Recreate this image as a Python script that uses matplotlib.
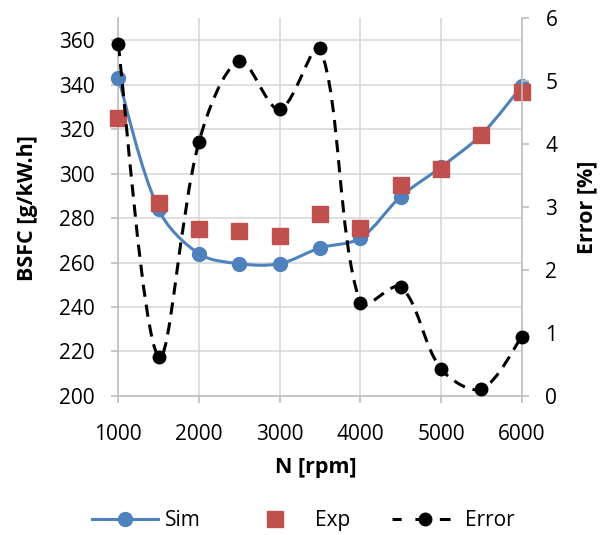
import numpy as np
import matplotlib
matplotlib.use('Agg')
import matplotlib.pyplot as plt
from matplotlib.path import Path
from matplotlib.patches import PathPatch
from matplotlib.lines import Line2D

plt.rcParams['font.family'] = ['Open Sans', 'DejaVu Sans']

# ── Data ───────────────────────────────────────────────────────────────────────
rpm = [1000, 1500, 2000, 2500, 3000, 3500, 4000, 4500, 5000, 5500, 6000]
bsfc_sim = [343.3, 284.0, 264.0, 259.5, 259.5, 266.6, 271.0, 289.7, 303.0, 317.6, 339.4]
bsfc_exp = [325.0, 287.0, 275.0, 274.0, 272.0, 282.0, 275.5, 295.0, 302.0, 317.6, 337.0]
error_pct = [5.59, 0.62, 4.03, 5.32, 4.55, 5.52, 1.47, 1.73, 0.43, 0.11, 0.94]

C_SIM = '#4F81BD'
C_EXP = '#C0504D'
C_ERR = 'black'
C_GRID = '#D9D9D9'
C_AXIS = '#BFBFBF'
FS = 15
FS_LAB = 15.5


def smooth_path(ax, x, y):
    # Excel-style smoothed line: cubic Bezier, arms scaled by chord length on screen
    P = np.column_stack([np.asarray(x, float), np.asarray(y, float)])
    S = ax.transData.transform(P)
    n = len(P)
    tang = np.zeros_like(P)
    for i in range(n):
        a, b = max(i - 1, 0), min(i + 1, n - 1)
        tang[i] = (P[b] - P[a])
    verts = [P[0]]
    codes = [Path.MOVETO]
    for i in range(n - 1):
        d_prev = np.hypot(*(S[i] - S[max(i - 1, 0)]))
        d_cur = np.hypot(*(S[i + 1] - S[i]))
        d_next = np.hypot(*(S[min(i + 2, n - 1)] - S[i + 1]))
        k1 = d_cur / (d_prev + d_cur) / 3.0 if i > 0 else 1 / 6.0
        k2 = d_cur / (d_cur + d_next) / 3.0 if i + 1 < n - 1 else 1 / 6.0
        c1 = P[i] + tang[i] * k1
        c2 = P[i + 1] - tang[i + 1] * k2
        verts += [c1, c2, P[i + 1]]
        codes += [Path.CURVE4] * 3
    return Path(verts, codes)


fig = plt.figure(figsize=(6.06, 5.35), dpi=100)
ax = fig.add_axes([0.195, 0.26, 0.666, 0.706])
ax2 = ax.twinx()

ax.set_xlim(1000, 6000)
ax.set_ylim(200, 370)
ax.set_yticks(np.arange(200, 361, 20))
ax.set_xticks(np.arange(1000, 6001, 1000))
ax2.set_ylim(0, 6.0)
ax2.set_yticks(np.arange(0, 7, 1))

# Sim
ax.add_patch(PathPatch(smooth_path(ax, rpm, bsfc_sim), facecolor='none',
                       edgecolor=C_SIM, lw=2.2, zorder=3))
ax.plot(rpm, bsfc_sim, 'o', color=C_SIM, ms=10, zorder=4, clip_on=False)
# Exp
ax.plot(rpm, bsfc_exp, 's', color=C_EXP, ms=12, zorder=5, clip_on=False)

# Error on secondary axis
ax2.add_patch(PathPatch(smooth_path(ax2, rpm, error_pct), facecolor='none',
                        edgecolor=C_ERR, lw=2.2, linestyle=(0, (4, 2.6)), zorder=3))
ax2.plot(rpm, error_pct, 'o', color=C_ERR, ms=9, zorder=4, clip_on=False)

ax.grid(True, color=C_GRID, lw=1.2, zorder=0)
ax.set_axisbelow(True)

for a in (ax, ax2):
    for s in a.spines.values():
        s.set_visible(False)
        s.set_linewidth(1.2)
    a.tick_params(labelsize=FS, length=5, width=1.2, color=C_AXIS, pad=12)
ax.spines['left'].set_visible(True)
ax.spines['left'].set_color(C_AXIS)
ax.spines['bottom'].set_visible(True)
ax.spines['bottom'].set_color(C_AXIS)
ax2.spines['right'].set_visible(True)
ax2.spines['right'].set_color(C_AXIS)
ax.tick_params(axis='x', pad=15)

fig.text(28 / 606, 1 - 208 / 535, 'BSFC [g/kW.h]', fontsize=FS_LAB, fontweight='bold',
         rotation=90, ha='center', va='center')
fig.text(587 / 606, 1 - 207 / 535, 'Error [%]', fontsize=FS_LAB, fontweight='bold',
         rotation=90, ha='center', va='center')
fig.text(316 / 606, 1 - 467 / 535, 'N [rpm]', fontsize=FS_LAB, fontweight='bold',
         ha='center', va='center')

handles = [
    Line2D([], [], color=C_SIM, lw=2.2, marker='o', ms=10),
    Line2D([], [], color=C_EXP, lw=0, marker='s', ms=12),
    Line2D([], [], color=C_ERR, lw=2.2, ls=(0.5, (3.5, 4.5)), marker='o', ms=9),
]
fig.legend(handles, ['Sim', 'Exp', 'Error'], loc='center',
           bbox_to_anchor=(0.5, 0.027), ncol=3, frameon=False,
           fontsize=FS, handlelength=3.2, columnspacing=2.0, handletextpad=0.3)

fig.savefig('out.png', dpi=100)
